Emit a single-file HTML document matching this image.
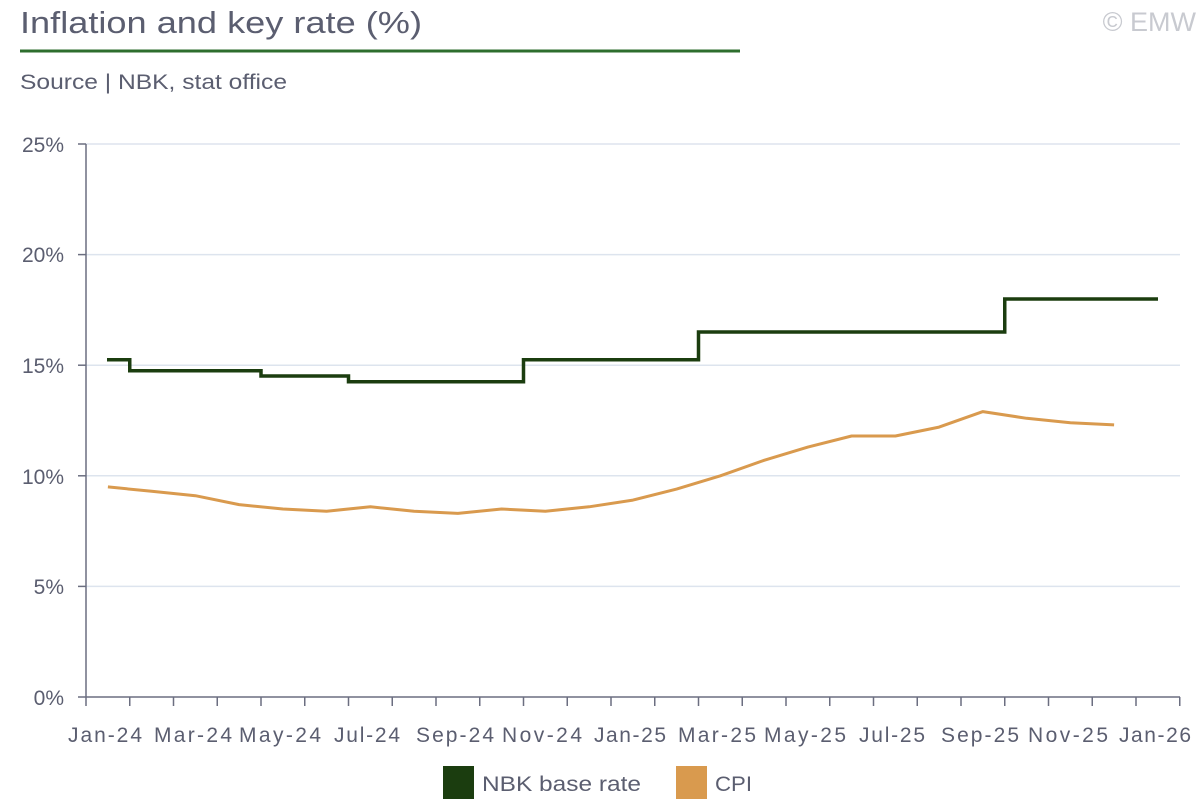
<!DOCTYPE html>
<html><head><meta charset="utf-8"><style>
body{margin:0;background:#fff;}
svg{display:block;font-family:"Liberation Sans",sans-serif;}
</style></head><body>
<svg width="1200" height="800" viewBox="0 0 1200 800" xmlns="http://www.w3.org/2000/svg">
<text x="20" y="33" font-size="31" fill="#5b5e70" textLength="402" lengthAdjust="spacingAndGlyphs">Inflation and key rate (%)</text>
<text x="1196" y="31" font-size="27" fill="#c8cad0" text-anchor="end">© EMW</text>
<line x1="20" y1="51" x2="740" y2="51" stroke="#2e6e2e" stroke-width="3"/>
<text x="20" y="89" font-size="21" fill="#5b5e70" textLength="267" lengthAdjust="spacingAndGlyphs">Source | NBK, stat office</text>
<g stroke="#dde4ee" stroke-width="1.5">
<line x1="86" y1="144" x2="1180" y2="144"/>
<line x1="86" y1="254.6" x2="1180" y2="254.6"/>
<line x1="86" y1="365.2" x2="1180" y2="365.2"/>
<line x1="86" y1="475.8" x2="1180" y2="475.8"/>
<line x1="86" y1="586.4" x2="1180" y2="586.4"/>
</g>
<g stroke="#6b6e80" stroke-width="1.5">
<line x1="86" y1="144" x2="86" y2="697"/>
<line x1="78" y1="144" x2="86" y2="144"/>
<line x1="78" y1="254.6" x2="86" y2="254.6"/>
<line x1="78" y1="365.2" x2="86" y2="365.2"/>
<line x1="78" y1="475.8" x2="86" y2="475.8"/>
<line x1="78" y1="586.4" x2="86" y2="586.4"/>
<line x1="78" y1="697" x2="1180" y2="697"/>
<path d="M86 697v9M129.75 697v9M173.5 697v9M217.25 697v9M261 697v9M304.75 697v9M348.5 697v9M392.25 697v9M436 697v9M479.75 697v9M523.5 697v9M567.25 697v9M611 697v9M654.75 697v9M698.5 697v9M742.25 697v9M786 697v9M829.75 697v9M873.5 697v9M917.25 697v9M961 697v9M1004.75 697v9M1048.5 697v9M1092.25 697v9M1136 697v9M1179.75 697v9"/>
</g>
<g font-size="21" fill="#5b5e70" text-anchor="end">
<text x="64" y="152">25%</text>
<text x="64" y="262">20%</text>
<text x="64" y="373">15%</text>
<text x="64" y="484">10%</text>
<text x="64" y="594">5%</text>
<text x="64" y="705">0%</text>
</g>
<g font-size="21" fill="#5b5e70" text-anchor="middle" lengthAdjust="spacingAndGlyphs">
<text x="105" y="742" textLength="74">Jan-24</text>
<text x="193" y="742" textLength="78">Mar-24</text>
<text x="280" y="742" textLength="82">May-24</text>
<text x="367" y="742" textLength="66">Jul-24</text>
<text x="455" y="742" textLength="78">Sep-24</text>
<text x="542" y="742" textLength="80">Nov-24</text>
<text x="630" y="742" textLength="72">Jan-25</text>
<text x="717" y="742" textLength="78">Mar-25</text>
<text x="805" y="742" textLength="82">May-25</text>
<text x="892" y="742" textLength="66">Jul-25</text>
<text x="980" y="742" textLength="78">Sep-25</text>
<text x="1068" y="742" textLength="80">Nov-25</text>
<text x="1155" y="742" textLength="72">Jan-26</text>
</g>
<path fill="none" stroke="#1b3d0f" stroke-width="3.5" d="M107 359.7H129.75V370.7H261V376H348.5V381.8H523.5V359.7H698.5V332H1004.75V299H1158"/>
<polyline fill="none" stroke="#d99a4e" stroke-width="3" stroke-linejoin="round" points="107.9,486.9 151.6,491.3 195.4,495.7 239.1,504.6 282.9,509 326.6,511.2 370.4,506.8 414.1,511.2 457.9,513.4 501.6,509 545.4,511.2 589.1,506.8 632.9,500.1 676.6,489.1 720.4,475.8 764.1,460.3 807.9,447.04 851.6,436 895.4,436 939.1,427.1 982.9,411.6 1026.6,418.3 1070.4,422.7 1114.1,424.9"/>
<rect x="443" y="766" width="31" height="33" fill="#1b3d0f"/>
<text x="482" y="791" font-size="21" fill="#5b5e70" textLength="159" lengthAdjust="spacingAndGlyphs">NBK base rate</text>
<rect x="676" y="766" width="31" height="33" fill="#d99a4e"/>
<text x="715" y="791" font-size="21" fill="#5b5e70" textLength="37" lengthAdjust="spacingAndGlyphs">CPI</text>
</svg>
</body></html>
